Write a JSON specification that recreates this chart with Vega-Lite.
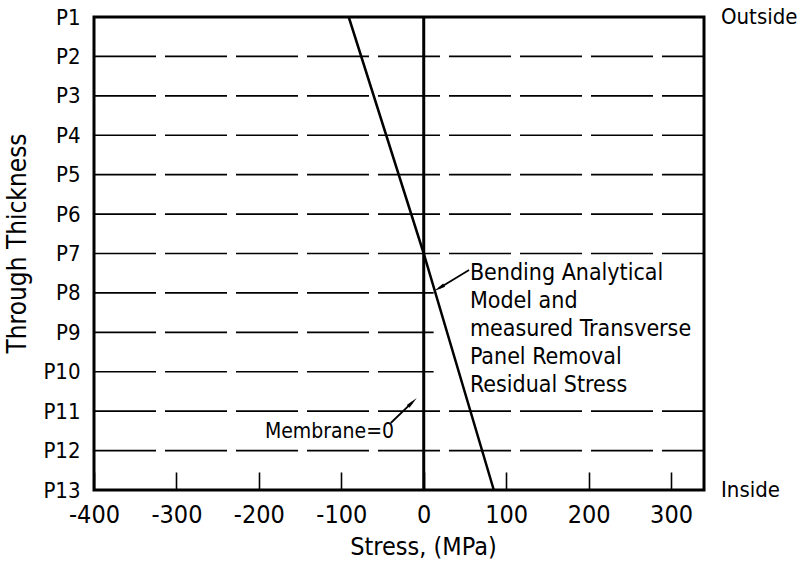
{
  "$schema": "https://vega.github.io/schema/vega-lite/v6.json",
  "width": 610,
  "height": 473,
  "autosize": "none",
  "padding": {"left": 94, "top": 17, "right": 106, "bottom": 72},
  "background": "white",
  "config": {
    "font": "DejaVu Sans Condensed",
    "view": {"stroke": "black", "strokeWidth": 3},
    "axis": {"labelColor": "black", "titleColor": "black", "labelFont": "DejaVu Sans Condensed", "titleFont": "DejaVu Sans Condensed", "titleFontWeight": "normal", "labelOverlap": false}
  },
  "datasets": {
    "line": [
      {"pos": 1, "stress": -91},
      {"pos": 7, "stress": 0},
      {"pos": 13, "stress": 85}
    ],
    "grid": [
      {"pos": 2, "from": -400, "to": 340}, {"pos": 3, "from": -400, "to": 340},
      {"pos": 4, "from": -400, "to": 340}, {"pos": 5, "from": -400, "to": 340},
      {"pos": 6, "from": -400, "to": 340}, {"pos": 7, "from": -400, "to": 340},
      {"pos": 8, "from": -400, "to": 12}, {"pos": 9, "from": -400, "to": 12},
      {"pos": 10, "from": -400, "to": 12}, {"pos": 11, "from": -400, "to": 340},
      {"pos": 12, "from": -400, "to": 340}
    ],
    "sides": [
      {"pos": 1, "stress": 340, "label": "Outside"},
      {"pos": 13, "stress": 340, "label": "Inside"}
    ],
    "notes": [
      {"pos": 7.5, "stress": 56, "label": "Bending Analytical"},
      {"pos": 8.2, "stress": 56, "label": "Model and"},
      {"pos": 8.91, "stress": 56, "label": "measured Transverse"},
      {"pos": 9.62, "stress": 56, "label": "Panel Removal"},
      {"pos": 10.33, "stress": 56, "label": "Residual Stress"}
    ],
    "membrane": [
      {"pos": 11.53, "stress": -36, "label": "Membrane=0"}
    ],
    "arrows": [
      {"x1": 55, "y1": 7.42, "x2": 18.5, "y2": 7.88, "angle": 239},
      {"x1": -40, "y1": 11.3, "x2": -13.7, "y2": 10.77, "angle": 46}
    ]
  },
  "layer": [
    {
      "data": {"name": "grid"},
      "mark": {"type": "rule", "color": "black", "strokeWidth": 1.6, "strokeDash": [62, 9]},
      "encoding": {
        "y": {"field": "pos", "type": "quantitative", "scale": {"domain": [1, 13], "reverse": true, "nice": false, "zero": false},
          "axis": {"values": [1,2,3,4,5,6,7,8,9,10,11,12,13], "tickCount": 20, "labelExpr": "'P' + datum.value", "labelOverlap": false, "labelFlush": false, "ticks": false, "domain": false, "grid": false, "labelFontSize": 22, "labelPadding": 14, "title": "Through Thickness", "titleFontSize": 26, "titleX": -77, "titleY": 226, "titleBaseline": "middle", "titleAngle": -90}},
        "x": {"field": "from", "type": "quantitative", "scale": {"domain": [-400, 340], "nice": false, "zero": false},
          "axis": {"values": [-400,-300,-200,-100,0,100,200,300], "tickCount": 20, "labelExpr": "'' + datum.value", "labelOverlap": false, "labelFlush": false, "grid": false, "domain": false, "tickColor": "black", "tickWidth": 1.6, "tickSize": -18, "labelFontSize": 25, "labelPadding": 30, "title": "Stress, (MPa)", "titleFontSize": 25, "titleX": 329, "titleY": 44, "titleBaseline": "top"}},
        "x2": {"field": "to"}
      }
    },
    {
      "data": {"values": [{"stress": 0}]},
      "mark": {"type": "rule", "color": "black", "strokeWidth": 3},
      "encoding": {
        "x": {"field": "stress", "type": "quantitative"}
      }
    },
    {
      "data": {"name": "line"},
      "mark": {"type": "line", "color": "black", "strokeWidth": 2.5},
      "encoding": {
        "x": {"field": "stress", "type": "quantitative"},
        "y": {"field": "pos", "type": "quantitative"}
      }
    },
    {
      "data": {"name": "arrows"},
      "mark": {"type": "rule", "color": "black", "strokeWidth": 1.8},
      "encoding": {
        "x": {"field": "x1", "type": "quantitative"},
        "y": {"field": "y1", "type": "quantitative"},
        "x2": {"field": "x2"},
        "y2": {"field": "y2"}
      }
    },
    {
      "data": {"name": "arrows"},
      "mark": {"type": "point", "shape": "M0,-1L0.32,1L-0.32,1Z", "filled": true, "color": "black", "size": 144, "opacity": 1},
      "encoding": {
        "x": {"field": "x2", "type": "quantitative"},
        "y": {"field": "y2", "type": "quantitative"},
        "angle": {"field": "angle", "type": "quantitative", "scale": null}
      }
    },
    {
      "data": {"name": "notes"},
      "mark": {"type": "text", "align": "left", "baseline": "middle", "fontSize": 23, "color": "black"},
      "encoding": {
        "x": {"field": "stress", "type": "quantitative"},
        "y": {"field": "pos", "type": "quantitative"},
        "text": {"field": "label"}
      }
    },
    {
      "data": {"name": "membrane"},
      "mark": {"type": "text", "align": "right", "baseline": "middle", "fontSize": 21, "color": "black"},
      "encoding": {
        "x": {"field": "stress", "type": "quantitative"},
        "y": {"field": "pos", "type": "quantitative"},
        "text": {"field": "label"}
      }
    },
    {
      "data": {"name": "sides"},
      "mark": {"type": "text", "align": "left", "baseline": "middle", "fontSize": 22, "dx": 17, "color": "black", "clip": false},
      "encoding": {
        "x": {"field": "stress", "type": "quantitative"},
        "y": {"field": "pos", "type": "quantitative"},
        "text": {"field": "label"}
      }
    }
  ]
}
